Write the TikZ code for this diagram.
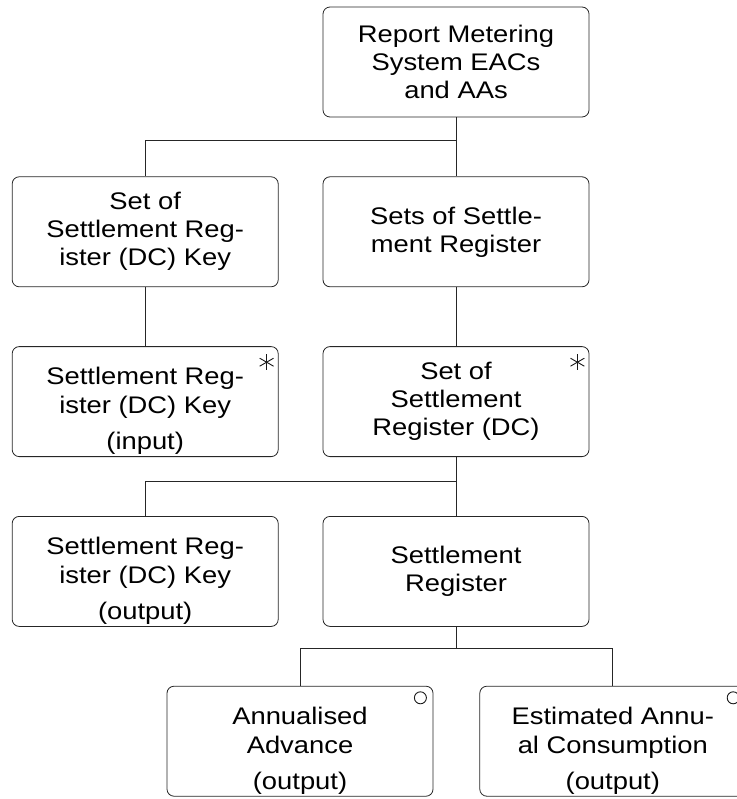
\documentclass[tikz,border=0pt]{standalone}
\usepackage{fontspec}
\setmainfont[FakeStretch=1.14]{Liberation Sans}
\usepackage{tikz}
\usetikzlibrary{positioning, calc}

\newcommand{\lowstart}{\rule{0pt}{36pt}}

\begin{document}
\begin{tikzpicture}[
    node distance=59pt and 44pt,
    box/.style={rectangle, draw=black!85, rounded corners=7pt, align=center, line width=0.8pt, minimum width=266pt, minimum height=110pt, inner sep=2pt, font=\fontsize{24}{28}\selectfont},
    statusbox/.style={box, font=\fontsize{24}{29}\selectfont},
    link/.style={draw=black!85, line width=0.8pt},
    tag/.style={draw=black!90, line width=0.9pt}
]

\useasboundingbox (0,0) rectangle (736pt,-799pt);

\node[box] (report) at (456pt,-62pt) {Report Metering\\System EACs\\and AAs};
\node[box, below=of report] (sets) {Sets of Settle-\\ment Register};
\node[box, left=of sets] (setkey) {Set of\\Settlement Reg-\\ister (DC) Key};
\node[statusbox, below=of setkey] (keyin) {\lowstart Settlement Reg-\\ister (DC) Key\\[7pt](input)};
\node[box, below=of sets] (setreg) {Set of\\Settlement\\Register (DC)};
\node[statusbox, below=of keyin] (keyout) {\lowstart Settlement Reg-\\ister (DC) Key\\[7pt](output)};
\node[box, below=of setreg] (reg) {Settlement\\Register};
\node[statusbox, below=of reg, xshift=-156pt] (advance) {\lowstart Annualised\\Advance\\[7pt](output)};
\node[statusbox, right=46pt of advance] (eac) {\lowstart Estimated Annu-\\al Consumption\\[7pt](output)};

% bus points
\coordinate (bus1) at ($(report.south)+(0,-23pt)$);
\coordinate (bus2) at ($(setreg.south)+(0,-24pt)$);
\coordinate (bus3) at ($(reg.south)+(0,-22pt)$);

\draw[link] (report.south) -- (sets.north);
\draw[link] (bus1) -| (setkey.north);
\draw[link] (setkey.south) -- (keyin.north);
\draw[link] (sets.south) -- (setreg.north);
\draw[link] (setreg.south) -- (reg.north);
\draw[link] (bus2) -| (keyout.north);
\draw[link] (reg.south) -- (bus3);
\draw[link] (bus3) -| (advance.north);
\draw[link] (bus3) -| (eac.north);

% multiplicity marks
\foreach \b in {keyin, setreg}
  \foreach \a in {90, 30, 150}
    \draw[tag] ([xshift=-12pt, yshift=-16pt]\b.north east) ++(\a:8pt) -- ++(\a+180:16pt);
\foreach \b in {advance, eac}
  \draw[tag] ([xshift=-13pt, yshift=-12pt]\b.north east) circle (6pt);

\end{tikzpicture}
\end{document}
